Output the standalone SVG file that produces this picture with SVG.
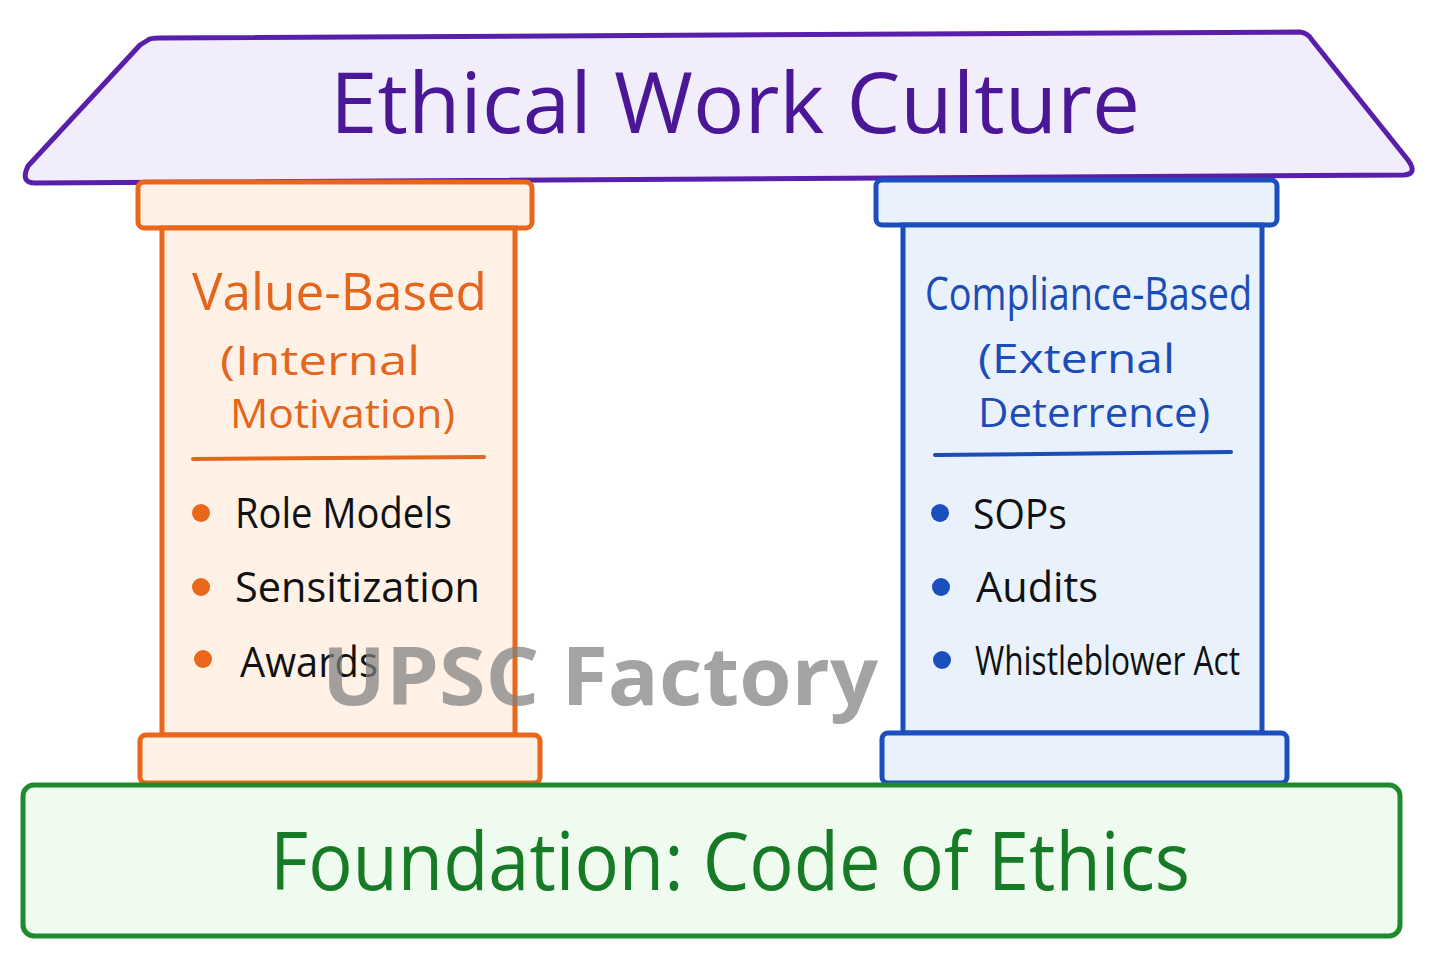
<svg xmlns="http://www.w3.org/2000/svg" width="1436" height="959" viewBox="0 0 1436 959">
<style>
.t{font-family:"Open Sans","Liberation Sans",sans-serif}
.or{fill:#E4661C}
.bl{fill:#1C4CB5}
.bk{fill:#111}
.po{stroke:#E8671B;stroke-width:5;fill:#FFF1E6}
.pb{stroke:#1B4FBE;stroke-width:5;fill:#E8F1FC}
</style>
<rect width="1436" height="959" fill="#FFFFFF"/>
<g id="roof">
<path d="M148,40 Q150,38 160,38 L1300,32 Q1308,33 1312,40 L1408,160 Q1418,174 1404,175 L35,183 Q20,183 28,166 L140,45 Z" fill="#F2EDFB" stroke="#5A1FAA" stroke-width="5" stroke-linejoin="round"/>
<text class="t" x="735" y="133" text-anchor="middle" font-size="84" fill="#4A1896" textLength="810" lengthAdjust="spacingAndGlyphs">Ethical  Work  Culture</text>
</g>
<g id="pillar-left">
<rect class="po" x="138" y="182" width="394" height="46" rx="6" fill="#FFEFE3"/>
<rect class="po" x="162" y="228" width="353" height="507" fill="#FFF5F1"/>
<rect class="po" x="140" y="735" width="400" height="48" rx="6" fill="#FFEFE3"/>
<text class="t or" x="192" y="310" font-size="52" textLength="295" lengthAdjust="spacingAndGlyphs">Value-Based</text>
<text class="t or" x="220" y="375" font-size="40" textLength="200" lengthAdjust="spacingAndGlyphs">(Internal</text>
<text class="t or" x="230" y="428" font-size="40" textLength="225" lengthAdjust="spacingAndGlyphs">Motivation)</text>
<line x1="193" y1="459" x2="484" y2="457" stroke="#E4661C" stroke-width="4" stroke-linecap="round"/>
<circle cx="201" cy="513" r="9" fill="#E8671B"/>
<circle cx="201" cy="587" r="9" fill="#E8671B"/>
<circle cx="203" cy="659" r="9" fill="#E8671B"/>
<text class="t bk" x="235" y="528" font-size="42" textLength="217" lengthAdjust="spacingAndGlyphs">Role  Models</text>
<text class="t bk" x="235" y="602" font-size="42" textLength="245" lengthAdjust="spacingAndGlyphs">Sensitization</text>
<text class="t bk" x="240" y="677" font-size="42" textLength="138" lengthAdjust="spacingAndGlyphs">Awards</text>
</g>
<g id="pillar-right">
<rect class="pb" x="876" y="180" width="401" height="45" rx="6" fill="#E6F0FC"/>
<rect class="pb" x="903" y="225" width="359" height="508" fill="#EEF4FD"/>
<rect class="pb" x="882" y="733" width="405" height="50" rx="6" fill="#E6F0FC"/>
<text class="t bl" x="925" y="310" font-size="46" textLength="327" lengthAdjust="spacingAndGlyphs">Compliance-Based</text>
<text class="t bl" x="978" y="373" font-size="40" textLength="197" lengthAdjust="spacingAndGlyphs">(External</text>
<text class="t bl" x="978" y="427" font-size="40" textLength="232" lengthAdjust="spacingAndGlyphs">Deterrence)</text>
<line x1="935" y1="455" x2="1231" y2="452" stroke="#1C4CB5" stroke-width="4" stroke-linecap="round"/>
<circle cx="940" cy="513" r="9" fill="#1B4FBE"/>
<circle cx="941" cy="587" r="9" fill="#1B4FBE"/>
<circle cx="942" cy="660" r="9" fill="#1B4FBE"/>
<text class="t bk" x="973" y="529" font-size="42" textLength="94" lengthAdjust="spacingAndGlyphs">SOPs</text>
<text class="t bk" x="976" y="602" font-size="42" textLength="122" lengthAdjust="spacingAndGlyphs">Audits</text>
<text class="t bk" x="975" y="675" font-size="40" textLength="265" lengthAdjust="spacingAndGlyphs">Whistleblower Act</text>
</g>
<g id="foundation">
<rect x="23" y="785" width="1377" height="151" rx="11" fill="#EFFBEE" stroke="#1F8A2E" stroke-width="5"/>
<text class="t" x="730" y="890" text-anchor="middle" font-size="80" fill="#177A27" textLength="920" lengthAdjust="spacingAndGlyphs">Foundation:  Code  of  Ethics</text>
</g>
<g id="connectors"/>
<text x="600" y="705" text-anchor="middle" font-family="'Open Sans','Liberation Sans',sans-serif" font-weight="bold" font-size="80" fill="#808080" fill-opacity="0.72" textLength="556" lengthAdjust="spacingAndGlyphs">UPSC Factory</text>
</svg>
